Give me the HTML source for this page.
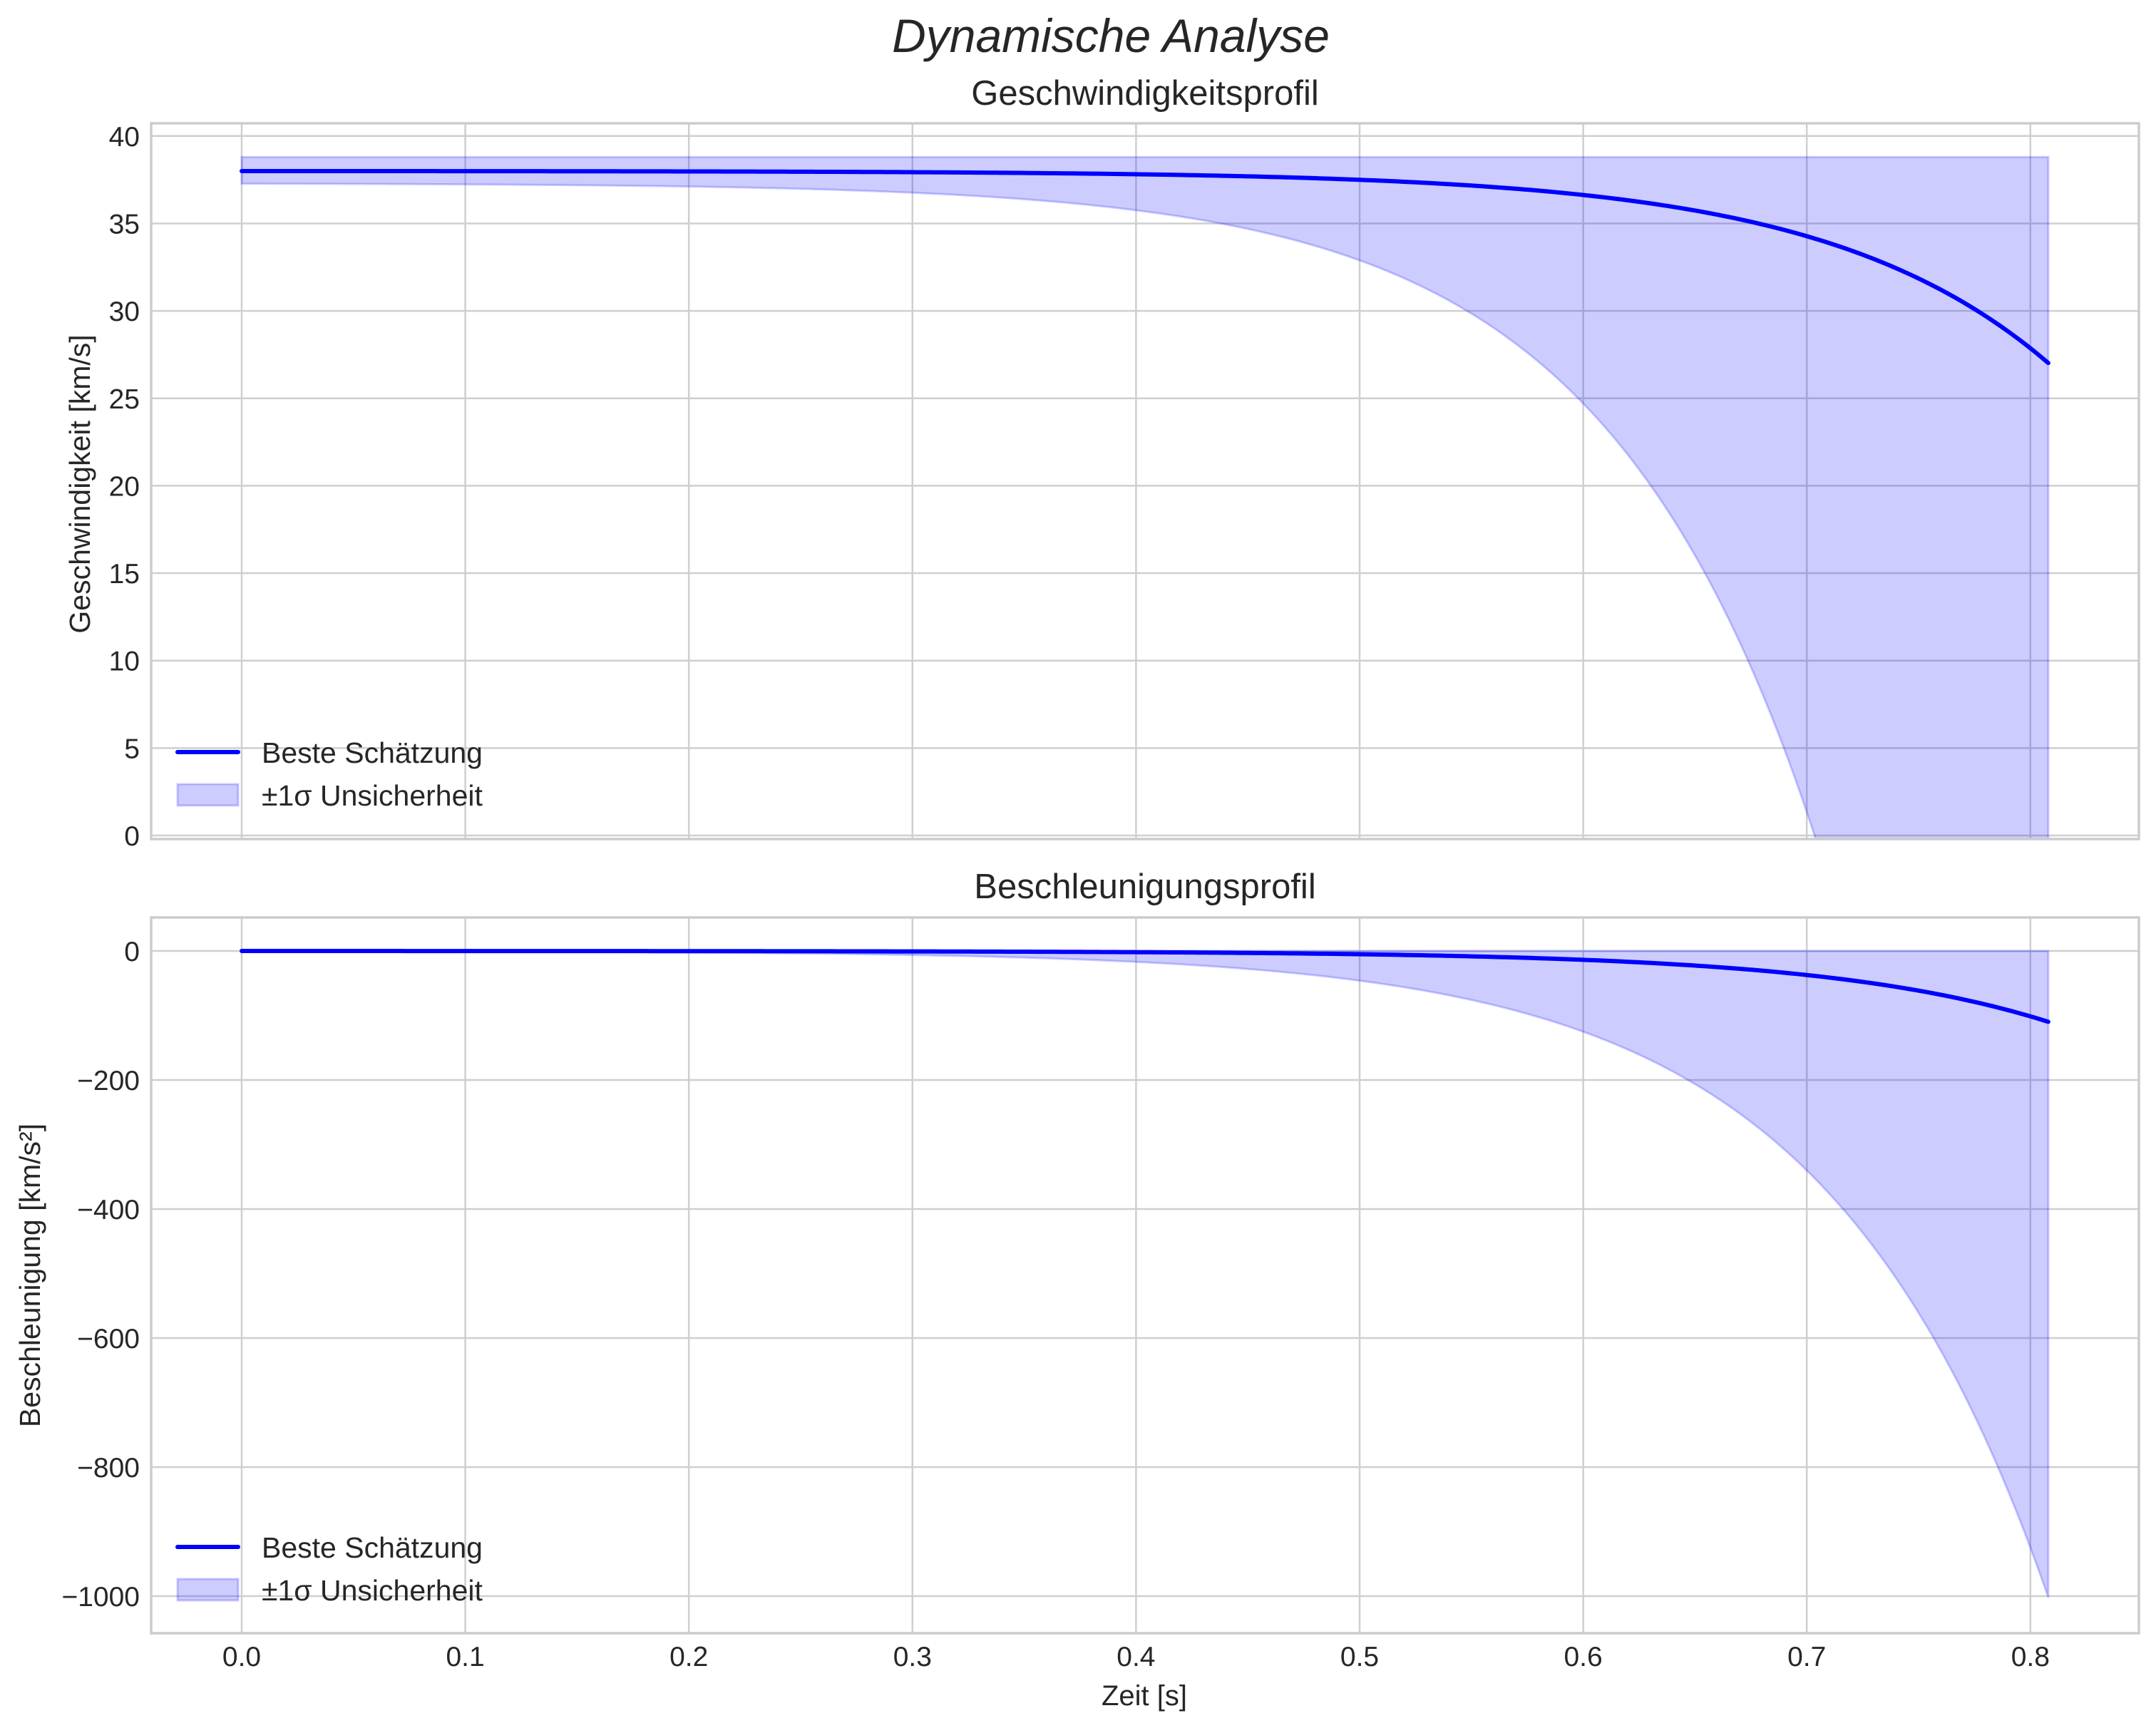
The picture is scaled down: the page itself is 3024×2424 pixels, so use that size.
<!DOCTYPE html>
<html><head><meta charset="utf-8"><style>
html,body{margin:0;padding:0;background:#fff;overflow:hidden;width:3024px;height:2424px;}
svg{display:block;}
svg text{font-family:"Liberation Sans",sans-serif;fill:#262626;}
</style></head><body>
<svg id="s" width="3024" height="2424" viewBox="0 0 3024 2424" xmlns="http://www.w3.org/2000/svg">
<rect width="3024" height="2424" fill="#fff"/>
<g id="g"></g>
<text x="1558" y="73" font-size="66" font-style="italic" text-anchor="middle">Dynamische Analyse</text>
<text x="1606" y="147" font-size="49" text-anchor="middle">Geschwindigkeitsprofil</text>
<text x="1606" y="1260" font-size="49" text-anchor="middle">Beschleunigungsprofil</text>
<text x="1605" y="2392" font-size="40" text-anchor="middle">Zeit [s]</text>
<text transform="translate(126,679) rotate(-90)" font-size="41" text-anchor="middle">Geschwindigkeit [km/s]</text>
<text transform="translate(56,1789) rotate(-90)" font-size="41" text-anchor="middle">Beschleunigung [km/s²]</text>
</svg>
<script>
var NS="http://www.w3.org/2000/svg",g=document.getElementById("g");
function el(t,a,txt){var e=document.createElementNS(NS,t);for(var k in a)e.setAttribute(k,a[k]);if(txt!=null)e.textContent=txt;g.appendChild(e);return e;}
var L=212,R=3000;
function X(t){return 339+t*3136;}
var panels=[{top:173,bot:1177,Y:function(v){return 1172-v*24.53;},ticks:[0,5,10,15,20,25,30,35,40],lab:function(v){return ""+v;},legY:1055},
{top:1287,bot:2291,Y:function(v){return 1334-v*0.905;},ticks:[0,-200,-400,-600,-800,-1000],lab:function(v){return v<0?"\u2212"+(-v):""+v;},legY:2170}];
var xt=[0,0.1,0.2,0.3,0.4,0.5,0.6,0.7,0.8];
var a=0.0034,k=10;
function v(t){return 38-a*Math.exp(k*t);}
function acc(t){return -a*k*Math.exp(k*t);}
function sv(t){return 0.7+0.02*Math.exp(10.55*t);}
function sa(t){return 41*Math.exp(10*(t-0.5));}
var T1=0.808,N=300;
panels.forEach(function(p,i){
  var cid="c"+i;
  var cp=document.createElementNS(NS,"clipPath");cp.setAttribute("id",cid);var r=document.createElementNS(NS,"rect");r.setAttribute("x",L);r.setAttribute("y",p.top);r.setAttribute("width",R-L);r.setAttribute("height",p.bot-p.top);cp.appendChild(r);g.appendChild(cp);
  xt.forEach(function(t){el("line",{x1:X(t),x2:X(t),y1:p.top,y2:p.bot,stroke:"#cfcfcf","stroke-width":2.5});});
  p.ticks.forEach(function(tv){var y=p.Y(tv);el("line",{x1:L,x2:R,y1:y,y2:y,stroke:"#cfcfcf","stroke-width":2.5});
    el("text",{x:196,y:y+14,"font-size":39,"text-anchor":"end"},p.lab(tv));});
  var up=[],lo=[],ln=[];
  for(var j=0;j<=N;j++){var t=T1*j/N;
    if(i==0){up.push(X(t)+","+p.Y(38.8));lo.push(X(t)+","+p.Y(v(t)-sv(t)));ln.push(X(t)+","+p.Y(v(t)));}
    else{up.push(X(t)+","+p.Y(0));lo.push(X(t)+","+p.Y(acc(t)-sa(t)));ln.push(X(t)+","+p.Y(acc(t)));}}
  var d="M"+up.join(" L")+" L"+lo.reverse().join(" L")+" Z";
  el("path",{d:d,fill:"rgba(0,0,255,0.2)",stroke:"rgba(0,0,255,0.2)","stroke-width":3,"clip-path":"url(#"+cid+")"});
  el("path",{d:"M"+ln.join(" L"),fill:"none",stroke:"#0000ff","stroke-width":6,"stroke-linecap":"round","clip-path":"url(#"+cid+")"});
  el("rect",{x:L,y:p.top,width:R-L,height:p.bot-p.top,fill:"none",stroke:"#cccccc","stroke-width":3.5});
  var ly=p.legY;
  el("line",{x1:249,x2:334,y1:ly,y2:ly,stroke:"#0000ff","stroke-width":6,"stroke-linecap":"round"});
  el("text",{x:367,y:ly+15,"font-size":41},"Beste Schätzung");
  el("rect",{x:249,y:ly+45,width:85,height:30,fill:"rgba(0,0,255,0.2)",stroke:"rgba(0,0,255,0.2)","stroke-width":3});
  el("text",{x:367,y:ly+75,"font-size":41},"±1σ Unsicherheit");
});
xt.forEach(function(t){el("text",{x:X(t),y:2337,"font-size":39,"text-anchor":"middle"},t.toFixed(1));});
</script>
</body></html>
